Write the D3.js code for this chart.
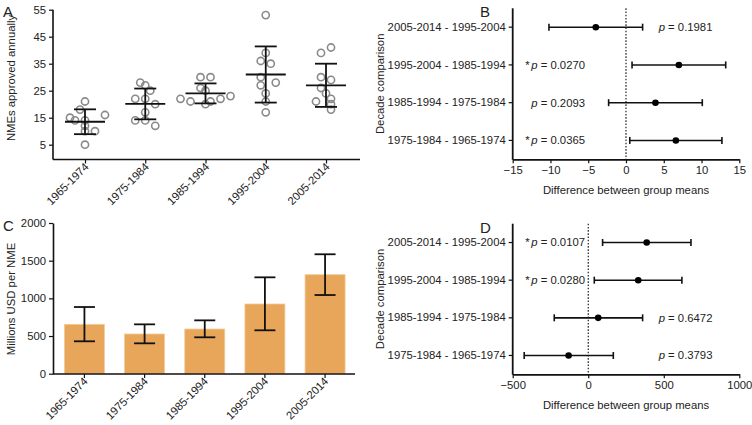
<!DOCTYPE html>
<html><head><meta charset="utf-8">
<script src="https://cdn.jsdelivr.net/npm/d3@7"></script>
<style>
body{margin:0;background:#fff;}
text{font-family:"Liberation Sans",Arial,Helvetica,sans-serif;fill:#222;}
</style></head>
<body><svg id="c" width="752" height="425"></svg>
<script>
// ---------- data ----------
const decades = ["1965-1974","1975-1984","1985-1994","1995-2004","2005-2014"];
const approvals = [
  [21,15,18,14,14,16,12,10,10,5],
  [28,27,25,22,22,20,17,14,14,12],
  [30,30,26,25,22,21,20,21,22,23],
  [53,39,36,35,30,27,28,24,21,17],
  [39,41,30,29,26,24,21,22,20,18]
];
const approvalMean = [13.5,20.1,24.0,31.0,27.0];
const approvalSD   = [4.6,5.7,3.7,10.4,8.0];
const aTicks = [5,15,25,35,45,55];

const costMean = [655,527,593,925,1314];
const costLow  = [430,403,483,576,1044];
const costHigh = [885,655,708,1279,1585];
const cTicks = [0,500,1000,1500,2000];

const comparisons = ["2005-2014 - 1995-2004","1995-2004 - 1985-1994","1985-1994 - 1975-1984","1975-1984 - 1965-1974"];
const bDiff = [-4.0,7.0,3.9,6.6];
const bLow  = [-10.2,0.8,-2.3,0.5];
const bHigh = [2.2,13.2,10.1,12.7];
const bP    = ["0.1981","0.0270","0.2093","0.0365"];
const bSig  = [false,true,false,true];
const bTicks = [-15,-10,-5,0,5,10,15];

const dDiff = [387,331,66,-130];
const dLow  = [95,40,-225,-424];
const dHigh = [680,620,360,166];
const dP    = ["0.0107","0.0280","0.6472","0.3793"];
const dSig  = [true,true,false,false];
const dTicks = [-500,0,500,1000];

// ---------- drawing ----------
const svg = d3.select("#c");
const FS = 11.3;

function styleAxis(g, w){
  g.selectAll("path.domain").attr("stroke","#111").attr("stroke-width",w||1.6);
  g.selectAll(".tick line").attr("stroke","#111").attr("stroke-width",1.2);
  g.selectAll(".tick text").style("font-size",FS+"px").attr("fill","#222")
    .style("font-family","Liberation Sans, Arial, sans-serif");
}
function rotLabels(gx){
  gx.selectAll(".tick text").remove();
  gx.selectAll(".tick").append("g").attr("transform","translate(4,8)")
    .append("g").attr("transform","rotate(-45)")
    .append("text").attr("text-anchor","end").attr("x",0).attr("y",0)
    .style("font-size",FS+"px").attr("fill","#222")
    .text(d=>d);
}
function letter(t,x,y){
  svg.append("text").attr("x",x).attr("y",y).text(t).style("font-size","15px");
}
function ylab(t,x,y){
  svg.append("text").attr("transform",`translate(${x},${y}) rotate(-90)`)
    .attr("text-anchor","middle").style("font-size",FS+"px").text(t);
}

// Panel A
(function(){
  const x = d3.scalePoint().domain(decades).range([85,326]);
  const y = d3.scaleLinear().domain([0,55]).range([158.2,9.7]);
  const ga = svg.append("g").attr("transform","translate(53,0)")
    .call(d3.axisLeft(y).tickValues(aTicks).tickSize(4).tickSizeOuter(0));
  ga.select("path.domain").attr("d","M0,9.7V159.5");
  styleAxis(ga);
  const gx = svg.append("g").attr("transform","translate(0,159.5)")
    .call(d3.axisBottom(x).tickSize(4).tickSizeOuter(0));
  gx.select("path.domain").attr("d","M53,0H360");
  styleAxis(gx);
  rotLabels(gx);
  decades.forEach((d,i)=>{
    const vals = approvals[i];
    const gg = svg.append("g");
    vals.forEach((v,j)=>{
      const n = vals.filter(w=>Math.abs(w-v)<2.5).length;
      const idx = vals.slice(0,j).filter(w=>Math.abs(w-v)<2.5).length;
      const off = n===1?0:(idx-(n-1)/2)*10;
      gg.append("circle").attr("cx",x(d)+off).attr("cy",y(v)).attr("r",3.6)
        .attr("fill","none").attr("stroke","#8a8a8a").attr("stroke-width",1.6);
    });
    const m = approvalMean[i], s = approvalSD[i], cx = x(d);
    const eg = svg.append("g").attr("stroke","#111").attr("stroke-width",1.8);
    eg.append("line").attr("x1",cx-20).attr("x2",cx+20).attr("y1",y(m)).attr("y2",y(m));
    eg.append("line").attr("x1",cx).attr("x2",cx).attr("y1",y(m-s)).attr("y2",y(m+s));
    [m-s,m+s].forEach(v=>eg.append("line").attr("x1",cx-11).attr("x2",cx+11).attr("y1",y(v)).attr("y2",y(v)));
  });
  ylab("NMEs approved annually",15,78);
  letter("A",3,17);
})();

// Panel C
(function(){
  const x = d3.scaleBand().domain(decades).range([54.5,355]).paddingInner(0.335).paddingOuter(0.165);
  const y = d3.scaleLinear().domain([0,2000]).range([373.7,223]);
  svg.append("g").selectAll("rect").data(decades).join("rect")
    .attr("x",d=>x(d)).attr("width",x.bandwidth())
    .attr("y",(d,i)=>y(costMean[i])).attr("height",(d,i)=>y(0)-y(costMean[i]))
    .attr("fill","#E8A65B").attr("stroke","#F3CB98").attr("stroke-width",0.8);
  decades.forEach((d,i)=>{
    const cx = x(d)+x.bandwidth()/2;
    const eg = svg.append("g").attr("stroke","#111").attr("stroke-width",1.8);
    eg.append("line").attr("x1",cx).attr("x2",cx).attr("y1",y(costLow[i])).attr("y2",y(costHigh[i]));
    [costLow[i],costHigh[i]].forEach(v=>eg.append("line").attr("x1",cx-10.5).attr("x2",cx+10.5).attr("y1",y(v)).attr("y2",y(v)));
  });
  const ga = svg.append("g").attr("transform","translate(53,0)")
    .call(d3.axisLeft(y).tickValues(cTicks).tickFormat(d3.format("d")).tickSize(4).tickSizeOuter(0));
  styleAxis(ga);
  const gx = svg.append("g").attr("transform","translate(0,374)")
    .call(d3.axisBottom(x).tickSize(4).tickSizeOuter(0));
  gx.select("path.domain").attr("d","M53,0H355");
  styleAxis(gx);
  rotLabels(gx);
  ylab("Millions USD per NME",15,299);
  letter("C",3,231);
})();

// Panels B & D
function forest(top, bottom, domain, ticks, diff, low, high, pv, sig, L){
  const x = d3.scaleLinear().domain(domain).range([512.7,739.3]);
  const y = d3.scaleBand().domain(comparisons).range([top,bottom]);
  const cy = d => y(d)+y.bandwidth()/2;
  svg.append("line").attr("x1",x(0)).attr("x2",x(0)).attr("y1",top).attr("y2",bottom)
    .attr("stroke","#111").attr("stroke-width",1.1).attr("stroke-dasharray","1.6,1.6");
  comparisons.forEach((c,i)=>{
    const g = svg.append("g").attr("stroke","#111").attr("stroke-width",1.6);
    g.append("line").attr("x1",x(low[i])).attr("x2",x(high[i])).attr("y1",cy(c)).attr("y2",cy(c));
    [low[i],high[i]].forEach(v=>g.append("line").attr("x1",x(v)).attr("x2",x(v)).attr("y1",cy(c)-3.5).attr("y2",cy(c)+3.5));
    svg.append("circle").attr("cx",x(diff[i])).attr("cy",cy(c)).attr("r",3.3).attr("fill","#000");
    const left = x(low[i]) > 590;
    const t = svg.append("text").attr("y",cy(c)).attr("dy","0.35em").style("font-size",FS+"px");
    if(left){ t.attr("x",585).attr("text-anchor","end"); } else { t.attr("x",658.7); }
    if(sig[i]) t.append("tspan").text("*");
    t.append("tspan").text("p").style("font-style","italic").attr("dx",sig[i]?"1.5":"0");
    t.append("tspan").text(" = "+pv[i]);
  });
  const gy = svg.append("g").attr("transform","translate(512.7,0)")
    .call(d3.axisLeft(y).tickSize(4).tickSizeOuter(0));
  gy.select("path.domain").attr("d",`M0,${top}V${bottom+0.5}`);
  styleAxis(gy,1.8);
  const gx = svg.append("g").attr("transform",`translate(0,${bottom})`)
    .call(d3.axisBottom(x).tickValues(ticks).tickFormat(d3.format("d")).tickSize(4).tickSizeOuter(0));
  styleAxis(gx,1.8);
  gx.selectAll(".tick text").attr("y",7);
  svg.append("text").attr("x",626).attr("y",bottom+35).attr("text-anchor","middle")
    .style("font-size",FS+"px").text("Difference between group means");
  ylab("Decade comparison",384,(top+bottom)/2);
  letter(L,480,top+9);
}
forest(8.3,159.3,[-15,15],bTicks,bDiff,bLow,bHigh,bP,bSig,"B");
forest(223.7,374.3,[-500,1000],dTicks,dDiff,dLow,dHigh,dP,dSig,"D");
</script></body></html>
